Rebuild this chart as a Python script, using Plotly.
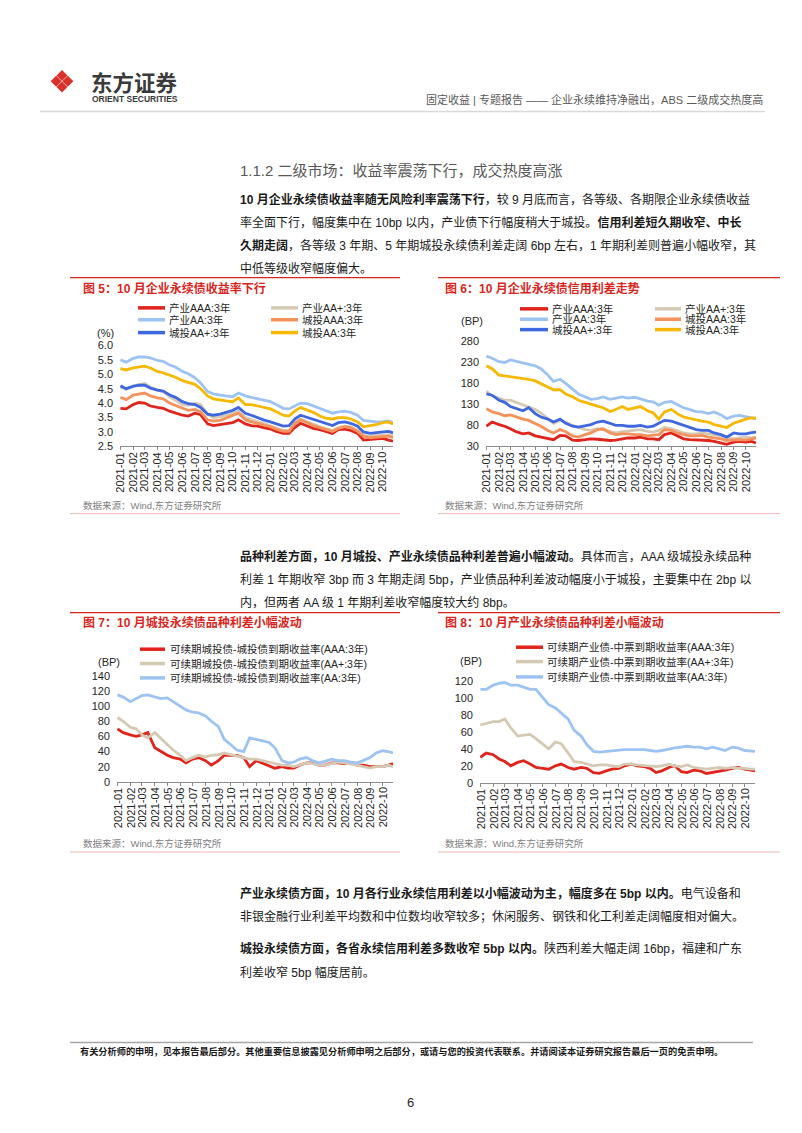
import pandas as pd
import plotly.graph_objects as go

W, H = 802, 1133
FONT = "Liberation Sans, Noto Sans CJK SC, sans-serif"
RED = "#D9261C"

# semi-monthly sample dates (1st and 15th), plus last day shown
dates = list(pd.date_range("2021-01-01", "2022-10-15", freq="SMS").strftime("%Y-%m-%d")) + ["2022-10-26"]
month_ticks = list(pd.date_range("2021-01-01", "2022-10-01", freq="MS").strftime("%Y-%m-%d"))
month_labels = [m[:7] for m in month_ticks]

# ---- 图5 yields (%) ----
y5_cy_aaa = [3.82, 3.80, 3.95, 4.02, 4.00, 3.90, 3.85, 3.82, 3.72, 3.65, 3.58, 3.55, 3.65, 3.60, 3.28,
             3.22, 3.25, 3.30, 3.32, 3.42, 3.28, 3.22, 3.20, 3.15, 3.10, 3.02, 2.95, 2.95, 3.15, 3.30,
             3.20, 3.12, 3.08, 3.02, 2.95, 3.08, 3.10, 3.05, 2.95, 2.72, 2.75, 2.75, 2.78, 2.72, 2.68]
y5_cy_aap = [4.55, 4.48, 4.60, 4.65, 4.68, 4.55, 4.45, 4.40, 4.22, 4.10, 3.95, 3.92, 4.00, 3.95, 3.62,
             3.50, 3.52, 3.58, 3.65, 3.72, 3.50, 3.42, 3.35, 3.30, 3.22, 3.15, 3.05, 3.05, 3.32, 3.45,
             3.35, 3.25, 3.18, 3.12, 3.05, 3.15, 3.20, 3.18, 3.05, 2.88, 2.85, 2.88, 2.90, 2.90, 2.86]
y5_cy_aa = [5.50, 5.42, 5.55, 5.60, 5.60, 5.57, 5.48, 5.45, 5.32, 5.25, 5.10, 5.02, 4.88, 4.70, 4.40,
            4.32, 4.28, 4.25, 4.22, 4.35, 4.25, 4.20, 4.15, 4.10, 4.05, 3.95, 3.82, 3.80, 3.90, 4.00,
            3.98, 3.90, 3.82, 3.75, 3.65, 3.70, 3.72, 3.68, 3.58, 3.40, 3.38, 3.35, 3.36, 3.38, 3.32]
y5_ct_aaa = [4.20, 4.12, 4.28, 4.32, 4.35, 4.25, 4.18, 4.15, 4.00, 3.92, 3.82, 3.75, 3.78, 3.70, 3.42,
             3.38, 3.40, 3.48, 3.55, 3.65, 3.42, 3.35, 3.30, 3.25, 3.18, 3.10, 3.02, 3.02, 3.28, 3.42,
             3.30, 3.22, 3.15, 3.10, 3.02, 3.12, 3.18, 3.15, 3.02, 2.85, 2.80, 2.82, 2.85, 2.85, 2.80]
y5_ct_aap = [4.60, 4.50, 4.58, 4.62, 4.62, 4.52, 4.45, 4.42, 4.28, 4.20, 4.05, 3.98, 3.95, 3.85, 3.62,
             3.58, 3.62, 3.68, 3.75, 3.85, 3.65, 3.58, 3.48, 3.42, 3.35, 3.28, 3.20, 3.22, 3.45, 3.58,
             3.50, 3.42, 3.35, 3.30, 3.22, 3.32, 3.35, 3.30, 3.20, 3.00, 2.95, 2.98, 3.00, 3.02, 2.97]
y5_ct_aa = [5.20, 5.15, 5.22, 5.25, 5.28, 5.22, 5.10, 5.05, 4.97, 4.90, 4.78, 4.72, 4.65, 4.50, 4.25,
            4.15, 4.10, 4.08, 4.05, 4.18, 3.95, 3.95, 3.90, 3.85, 3.80, 3.70, 3.58, 3.55, 3.72, 3.85,
            3.75, 3.68, 3.55, 3.48, 3.45, 3.50, 3.50, 3.45, 3.35, 3.18, 3.22, 3.25, 3.32, 3.35, 3.28]

# ---- 图6 credit spreads (BP) ----
s6_cy_aaa = [78, 88, 82, 78, 72, 65, 60, 62, 55, 52, 48, 46, 56, 55, 45, 44, 46, 48, 47, 46, 44, 45, 48,
             50, 50, 52, 48, 48, 46, 58, 62, 55, 48, 46, 45, 46, 44, 42, 38, 35, 40, 42, 40, 42, 38]
s6_cy_aap = [162, 150, 145, 140, 140, 135, 130, 125, 118, 110, 95, 85, 92, 88, 80, 75, 70, 68, 72, 70, 65,
             62, 65, 66, 68, 70, 66, 64, 68, 75, 72, 68, 62, 60, 60, 62, 60, 58, 55, 50, 48, 50, 52, 50, 52]
s6_cy_aa = [245, 240, 232, 230, 236, 233, 229, 226, 222, 215, 200, 185, 190, 180, 165, 155, 148, 142, 144,
            148, 142, 145, 148, 145, 147, 143, 138, 136, 128, 135, 137, 130, 122, 118, 113, 112, 108, 112,
            105, 96, 102, 104, 100, 98, 96]
s6_ct_aaa = [120, 112, 108, 103, 105, 100, 95, 92, 85, 78, 68, 62, 70, 65, 55, 52, 58, 62, 70, 72, 62, 58,
             60, 60, 58, 58, 55, 56, 58, 70, 68, 62, 58, 55, 55, 56, 52, 50, 48, 44, 45, 46, 45, 47, 50]
s6_ct_aap = [155, 152, 140, 135, 125, 120, 115, 122, 108, 100, 95, 88, 95, 85, 78, 76, 80, 82, 88, 90, 85,
             80, 80, 78, 78, 80, 76, 78, 85, 92, 90, 85, 80, 75, 70, 68, 68, 62, 58, 52, 62, 60, 60, 63, 64]
s6_ct_aa = [222, 215, 200, 198, 197, 195, 192, 190, 186, 180, 172, 165, 165, 155, 148, 140, 135, 130, 126,
            122, 113, 118, 125, 118, 122, 125, 115, 110, 95, 112, 118, 108, 100, 97, 92, 90, 88, 82, 78,
            75, 85, 90, 95, 98, 97]

# ---- 图7 城投 品种利差 (BP) ----
s7_aaa = [70, 65, 62, 60, 62, 65, 45, 40, 35, 32, 30, 25, 30, 32, 28, 22, 28, 35, 35, 35, 32, 20, 28,
          25, 22, 18, 20, 18, 18, 22, 25, 25, 22, 22, 25, 25, 24, 26, 22, 22, 20, 20, 20, 22, 24]
s7_aap = [85, 80, 72, 70, 62, 58, 65, 58, 50, 42, 35, 28, 32, 35, 33, 35, 36, 38, 36, 34, 32, 30, 30,
          28, 25, 24, 22, 22, 20, 22, 25, 24, 22, 22, 24, 26, 25, 24, 22, 20, 18, 20, 20, 22, 20]
s7_aa = [115, 112, 106, 110, 114, 115, 112, 110, 111, 106, 100, 95, 92, 91, 87, 80, 73, 56, 49, 42, 40,
         58, 56, 54, 52, 45, 28, 25, 26, 30, 32, 28, 25, 27, 30, 28, 28, 26, 25, 28, 32, 38, 41, 40, 38]

# ---- 图8 产业 品种利差 (BP) ----
s8_aaa = [30, 35, 33, 28, 25, 20, 24, 26, 22, 18, 17, 16, 20, 22, 18, 16, 18, 17, 12, 11, 14, 16, 17,
          20, 22, 20, 19, 17, 12, 14, 18, 20, 13, 12, 15, 14, 11, 12, 14, 15, 17, 18, 16, 15, 14]
s8_aap = [68, 70, 72, 72, 75, 65, 55, 56, 57, 52, 45, 40, 48, 46, 35, 25, 24, 22, 20, 21, 21, 20, 19,
          22, 22, 21, 20, 19, 19, 20, 22, 20, 19, 21, 18, 17, 16, 17, 18, 17, 18, 17, 17, 16, 16]
s8_aa = [110, 110, 115, 117, 118, 115, 115, 113, 110, 110, 100, 92, 88, 82, 75, 62, 55, 45, 37, 36, 37,
         38, 39, 39, 39, 39, 39, 38, 37, 38, 40, 41, 42, 43, 42, 42, 40, 42, 40, 38, 42, 41, 38, 37, 37]

C_RED, C_BEIGE, C_LBLUE = "#E0231B", "#D6C9B4", "#9DC3F3"
C_ORANGE, C_BLUE, C_YELLOW = "#F5925C", "#3F68E0", "#F6B800"

names56 = ["产业AAA:3年", "产业AA+:3年", "产业AA:3年", "城投AAA:3年", "城投AA+:3年", "城投AA:3年"]
colors56 = [C_RED, C_BEIGE, C_LBLUE, C_ORANGE, C_BLUE, C_YELLOW]
names7 = ["可续期城投债-城投债到期收益率(AAA:3年)", "可续期城投债-城投债到期收益率(AA+:3年)",
          "可续期城投债-城投债到期收益率(AA:3年)"]
names8 = ["可续期产业债-中票到期收益率(AAA:3年)", "可续期产业债-中票到期收益率(AA+:3年)",
          "可续期产业债-中票到期收益率(AA:3年)"]
colors78 = [C_RED, C_BEIGE, C_LBLUE]


def px(x):
    return x / W


def py(y):
    return 1 - y / H


fig = go.Figure()


def text(x, y, s, size, color="#1a1a1a", xanchor="left"):
    fig.add_annotation(x=px(x), y=py(y), xref="paper", yref="paper", text=s, showarrow=False,
                       xanchor=xanchor, yanchor="middle", align="left",
                       font=dict(size=size, color=color, family=FONT))


def hline(x0, x1, y, color, width):
    fig.add_shape(type="line", xref="paper", yref="paper", x0=px(x0), x1=px(x1), y0=py(y), y1=py(y),
                  line=dict(color=color, width=width))


charts = [
    dict(series=[y5_cy_aaa, y5_cy_aap, y5_cy_aa, y5_ct_aaa, y5_ct_aap, y5_ct_aa], names=names56,
         colors=colors56, xd=(112, 385), yd=(335, 437), rng=(2.5, 6.0), dtick=0.5, fmt=".1f"),
    dict(series=[s6_cy_aaa, s6_cy_aap, s6_cy_aa, s6_ct_aaa, s6_ct_aap, s6_ct_aa], names=names56,
         colors=colors56, xd=(478, 748), yd=(331, 437), rng=(30, 280), dtick=50, fmt="d"),
    dict(series=[s7_aaa, s7_aap, s7_aa], names=names7, colors=colors78,
         xd=(109, 385), yd=(669, 776), rng=(0, 140), dtick=20, fmt="d"),
    dict(series=[s8_aaa, s8_aap, s8_aa], names=names8, colors=colors78,
         xd=(472, 747), yd=(674, 777), rng=(0, 120), dtick=20, fmt="d"),
]

layout_axes = {}
for i, ch in enumerate(charts, start=1):
    sfx = "" if i == 1 else str(i)
    for vals, name, col in zip(ch["series"], ch["names"], ch["colors"]):
        fig.add_trace(go.Scatter(x=dates, y=vals, name=name, mode="lines",
                                 line=dict(color=col, width=2.8), showlegend=False,
                                 xaxis="x" + sfx, yaxis="y" + sfx))
    layout_axes["xaxis" + sfx] = dict(
        domain=[px(ch["xd"][0]), px(ch["xd"][1])], anchor="y" + sfx, type="date",
        range=["2020-12-31", "2022-10-26"], tickmode="array", tickvals=month_ticks,
        showticklabels=False, showgrid=False, zeroline=False, showline=True,
        linecolor="#8c8c8c", linewidth=1, ticks="outside", ticklen=3, tickcolor="#8c8c8c")
    layout_axes["yaxis" + sfx] = dict(
        domain=[py(ch["yd"][1]), py(ch["yd"][0])], anchor="x" + sfx, range=list(ch["rng"]),
        dtick=ch["dtick"], tick0=ch["rng"][0], tickformat=ch["fmt"], showgrid=False, zeroline=False,
        showline=False, ticks="", ticklabelstandoff=6,
        tickfont=dict(size=11, color="#262626", family=FONT))
    # month labels (every month, rotated), placed on the date axis scale
    for m, lab in zip(month_ticks, month_labels):
        fig.add_annotation(x=m, xref="x" + sfx, y=py(ch["yd"][1] + 4), yref="paper", text=lab,
                           textangle=-90, showarrow=False, xanchor="center", yanchor="top",
                           font=dict(size=11, color="#262626", family=FONT))

fig.update_layout(width=W, height=H, margin=dict(l=0, r=0, t=0, b=0), plot_bgcolor="white",
                  paper_bgcolor="white", showlegend=False, **layout_axes)

# ---- manual legends ----
leg_specs = [
    (0, [297, 309, 322], [(130, 157, 159), (263, 290, 292)]),
    (1, [298, 308.5, 319], [(512, 540, 542), (647, 673, 675)]),
]
for ci, rows, cols in leg_specs:
    ch = charts[ci]
    for k, (name, col) in enumerate(zip(ch["names"], ch["colors"])):
        r, c = divmod(k, 2)
        x0, x1, tx = cols[c]
        hline(x0, x1, rows[r], col, 3.5)
        text(tx, rows[r], name, 10.5, "#262626")

for ci, rows, (x0, x1, tx) in [(2, [642, 656.5, 671], (132, 157, 160)),
                                (3, [640, 654.5, 670], (508, 535, 537))]:
    ch = charts[ci]
    for k, (name, col) in enumerate(zip(ch["names"], ch["colors"])):
        hline(x0, x1, rows[k], col, 3.5)
        text(tx, rows[k], name, 10.5, "#262626")

# units
text(87, 322, "(%)", 11, "#262626")
text(451, 310, "(BP)", 11, "#262626")
text(88, 655, "(BP)", 11, "#262626")
text(450, 654, "(BP)", 11, "#262626")

# chart titles, sources, frame lines
text(73, 277, "<b>图 5：10 月企业永续债收益率下行</b>", 12, RED)
text(435, 277, "<b>图 6：10 月企业永续债信用利差走势</b>", 12, RED)
text(73, 615, "<b>图 7：10 月城投永续债品种利差小幅波动</b>", 12, RED)
text(435, 615, "<b>图 8：10 月产业永续债品种利差小幅波动</b>", 12, RED)
for x in (73, 435):
    text(x, 497, "数据来源：Wind,东方证券研究所", 9.5, "#808080")
    text(x, 838, "数据来源：Wind,东方证券研究所", 9.5, "#808080")
for (a, b) in ((62, 392), (430, 772)):
    hline(a, b, 266.5, RED, 1.3)
    hline(a, b, 505, "#F1B9B5", 1)
    hline(a, b, 605, RED, 1.3)
    hline(a, b, 847, "#F1B9B5", 1)

# ---- header ----
petals = [(54, 62.2), (48.2, 68), (59.8, 68), (54, 73.8)]
for cx, cy in petals:
    d = 5.5
    fig.add_shape(type="path", xref="paper", yref="paper", fillcolor="#D9312B", line=dict(width=0),
                  path=f"M {px(cx)} {py(cy - d)} L {px(cx + d)} {py(cy)} L {px(cx)} {py(cy + d)} "
                       f"L {px(cx - d)} {py(cy)} Z")
text(81, 70, "<b>东方证券</b>", 21.5, "#3a3a3a")
text(82, 86, "<b>ORIENT SECURITIES</b>", 8.5, "#3a3a3a")
text(757, 86, "固定收益 | 专题报告 —— 企业永续维持净融出，ABS 二级成交热度高", 11, "#595959", "right")
hline(32, 757, 98.5, "#d9d9d9", 1.5)

# ---- body text ----
text(230, 158, "1.1.2 二级市场：收益率震荡下行，成交热度高涨", 15, "#595959")
p1 = ["<b>10 月企业永续债收益率随无风险利率震荡下行</b>，较 9 月底而言，各等级、各期限企业永续债收益",
      "率全面下行，幅度集中在 10bp 以内，产业债下行幅度稍大于城投。<b>信用利差短久期收窄、中长</b>",
      "<b>久期走阔</b>，各等级 3 年期、5 年期城投永续债利差走阔 6bp 左右，1 年期利差则普遍小幅收窄，其",
      "中低等级收窄幅度偏大。"]
for k, s in enumerate(p1):
    text(230, 187 + 23.5 * k, s, 12)
p2 = ["<b>品种利差方面，10 月城投、产业永续债品种利差普遍小幅波动。</b>具体而言，AAA 级城投永续品种",
      "利差 1 年期收窄 3bp 而 3 年期走阔 5bp，产业债品种利差波动幅度小于城投，主要集中在 2bp 以",
      "内，但两者 AA 级 1 年期利差收窄幅度较大约 8bp。"]
for k, s in enumerate(p2):
    text(230, 548 + 23.5 * k, s, 12)
p3 = ["<b>产业永续债方面，10 月各行业永续信用利差以小幅波动为主，幅度多在 5bp 以内。</b>电气设备和",
      "非银金融行业利差平均数和中位数均收窄较多；休闲服务、钢铁和化工利差走阔幅度相对偏大。"]
for k, s in enumerate(p3):
    text(230, 889 + 23.5 * k, s, 12)
p4 = ["<b>城投永续债方面，各省永续信用利差多数收窄 5bp 以内。</b>陕西利差大幅走阔 16bp，福建和广东",
      "利差收窄 5bp 幅度居前。"]
for k, s in enumerate(p4):
    text(230, 945 + 23.5 * k, s, 12)

# ---- footer ----
hline(62, 745, 1039.5, "#a6a6a6", 1.5)
text(70, 1048.5, "<b>有关分析师的申明，见本报告最后部分。其他重要信息披露见分析师申明之后部分，或请与您的投资代表联系。"
                 "并请阅读本证券研究报告最后一页的免责申明。</b>", 9.2, "#1a1a1a")
text(402, 1100, "6", 13, "#262626", "center")

fig.write_html("out.html")
